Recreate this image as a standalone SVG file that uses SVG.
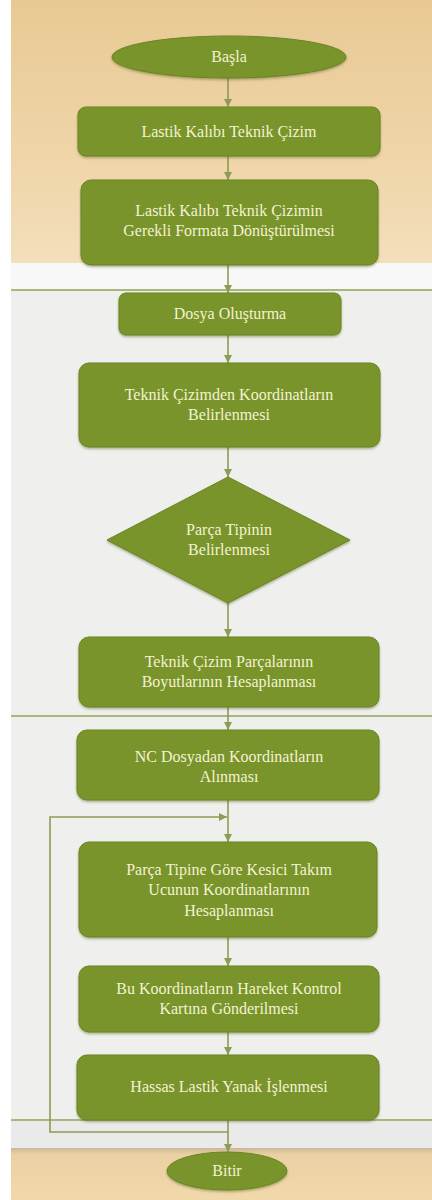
<svg xmlns="http://www.w3.org/2000/svg" width="432" height="1200" viewBox="0 0 432 1200">
  <defs>
    <linearGradient id="paperTop" x1="0" y1="0" x2="0" y2="1">
      <stop offset="0" stop-color="#e8c994"/>
      <stop offset="0.6" stop-color="#efd5a8"/>
      <stop offset="1" stop-color="#f3dfbb"/>
    </linearGradient>
    <linearGradient id="paperBottom" x1="0" y1="0" x2="0" y2="1">
      <stop offset="0" stop-color="#c9b79a"/>
      <stop offset="0.12" stop-color="#ead0a2"/>
      <stop offset="1" stop-color="#f2d9ac"/>
    </linearGradient>
    <filter id="soft" x="-5%" y="-5%" width="110%" height="120%">
      <feDropShadow dx="0" dy="1.5" stdDeviation="1" flood-color="#4a5a18" flood-opacity="0.45"/>
    </filter>
    <marker id="arrow" markerUnits="userSpaceOnUse" markerWidth="9" markerHeight="8" refX="8" refY="4" orient="auto">
      <path d="M0,0 L8,4 L0,8 Z" fill="#8d9c55"/>
    </marker>
  </defs>
  <style>
    .node { fill: #78942a; stroke: #6a8523; stroke-width: 1; filter: url(#soft); }
    .label { font-family: 'Liberation Serif', 'DejaVu Serif', serif; font-size: 16px; fill: #f4f2d2; text-anchor: middle; }
    .flow { fill: none; stroke: #8d9c55; stroke-width: 1.6; }
    .rule { stroke: #aab77c; stroke-width: 2.2; }
  </style>

  <!-- page background bands -->
  <rect x="0" y="0" width="432" height="1200" fill="#ffffff"/>
  <rect x="11" y="0" width="421" height="263" fill="url(#paperTop)"/>
  <rect x="11" y="263" width="421" height="27" fill="#f8f8f8"/>
  <rect x="11" y="290" width="421" height="858" fill="#efefed"/>
  <rect x="11" y="1121" width="421" height="27" fill="#eaeaea"/>
  <rect x="11" y="1148" width="421" height="52" fill="url(#paperBottom)"/>
  <line class="rule" x1="11" y1="290" x2="432" y2="290"/>
  <line class="rule" x1="11" y1="716" x2="432" y2="716"/>
  <line class="rule" x1="11" y1="1120" x2="432" y2="1120"/>

  <!-- connectors -->
  <g id="connectors">
    <line class="flow" x1="228" y1="78" x2="228" y2="107" marker-end="url(#arrow)"/>
    <line class="flow" x1="228" y1="156" x2="228" y2="180" marker-end="url(#arrow)"/>
    <line class="flow" x1="228" y1="265" x2="228" y2="293" marker-end="url(#arrow)"/>
    <line class="flow" x1="228" y1="335" x2="228" y2="363" marker-end="url(#arrow)"/>
    <line class="flow" x1="228" y1="447" x2="228" y2="477" marker-end="url(#arrow)"/>
    <line class="flow" x1="228" y1="603" x2="228" y2="637" marker-end="url(#arrow)"/>
    <line class="flow" x1="228" y1="707" x2="228" y2="730" marker-end="url(#arrow)"/>
    <line class="flow" x1="228" y1="800" x2="228" y2="842" marker-end="url(#arrow)"/>
    <line class="flow" x1="228" y1="937" x2="228" y2="966" marker-end="url(#arrow)"/>
    <line class="flow" x1="228" y1="1032" x2="228" y2="1055" marker-end="url(#arrow)"/>
    <line class="flow" x1="228" y1="1120" x2="228" y2="1152" marker-end="url(#arrow)"/>
    <!-- repeat loop back above the tool-tip calculation -->
    <polyline class="flow" points="228,1132 50,1132 50,817 227,817" marker-end="url(#arrow)"/>
  </g>

  <g id="start">
    <ellipse class="node" cx="229" cy="57" rx="117" ry="21"/>
    <text class="label" x="229" y="62">Başla</text>
  </g>

  <g id="step-drawing">
    <rect class="node" x="78" y="107" width="302" height="49" rx="8"/>
    <text class="label" x="229" y="137">Lastik Kalıbı Teknik Çizim</text>
  </g>

  <g id="step-convert">
    <rect class="node" x="81" y="180" width="297" height="85" rx="10"/>
    <text class="label" x="229" y="216">Lastik Kalıbı Teknik Çizimin</text>
    <text class="label" x="229" y="236">Gerekli Formata Dönüştürülmesi</text>
  </g>

  <g id="step-file">
    <rect class="node" x="119" y="293" width="222" height="42" rx="7"/>
    <text class="label" x="230" y="319">Dosya Oluşturma</text>
  </g>

  <g id="step-coords">
    <rect class="node" x="79" y="363" width="301" height="84" rx="10"/>
    <text class="label" x="229" y="400">Teknik Çizimden Koordinatların</text>
    <text class="label" x="229" y="420">Belirlenmesi</text>
  </g>

  <g id="decision-type">
    <polygon class="node" points="228,477 350,540 228,603 107,540"/>
    <text class="label" x="229" y="535">Parça Tipinin</text>
    <text class="label" x="229" y="555">Belirlenmesi</text>
  </g>

  <g id="step-dimensions">
    <rect class="node" x="79" y="637" width="300" height="70" rx="10"/>
    <text class="label" x="229" y="667">Teknik Çizim Parçalarının</text>
    <text class="label" x="229" y="687">Boyutlarının Hesaplanması</text>
  </g>

  <g id="step-nc">
    <rect class="node" x="77" y="730" width="302" height="70" rx="10"/>
    <text class="label" x="229" y="762">NC Dosyadan Koordinatların</text>
    <text class="label" x="229" y="782">Alınması</text>
  </g>

  <g id="step-tooltip">
    <rect class="node" x="79" y="842" width="298" height="95" rx="10"/>
    <text class="label" x="229" y="875">Parça Tipine Göre Kesici Takım</text>
    <text class="label" x="229" y="895">Ucunun Koordinatlarının</text>
    <text class="label" x="229" y="916">Hesaplanması</text>
  </g>

  <g id="step-send">
    <rect class="node" x="79" y="966" width="300" height="66" rx="10"/>
    <text class="label" x="229" y="994">Bu Koordinatların Hareket Kontrol</text>
    <text class="label" x="229" y="1014">Kartına Gönderilmesi</text>
  </g>

  <g id="step-machining">
    <rect class="node" x="77" y="1055" width="302" height="65" rx="10"/>
    <text class="label" x="229" y="1092">Hassas Lastik Yanak İşlenmesi</text>
  </g>

  <g id="end">
    <ellipse class="node" cx="227" cy="1171" rx="60" ry="19"/>
    <text class="label" x="227" y="1176">Bitir</text>
  </g>
</svg>
